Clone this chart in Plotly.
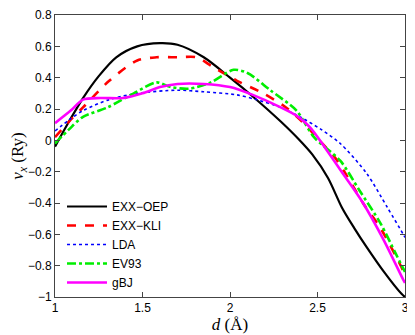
import plotly.graph_objects as go

# values (d in Angstrom, v_x in Ry)
d_oep = [1.0, 1.08, 1.16, 1.25, 1.35, 1.47, 1.60, 1.70, 1.85, 2.0, 2.13, 2.29, 2.39, 2.47, 2.56, 2.64, 2.71, 2.78, 2.88, 2.98, 3.0]
v_oep = [-0.04, 0.12, 0.27, 0.41, 0.53, 0.60, 0.62, 0.61, 0.53, 0.40, 0.28, 0.12, 0.01, -0.09, -0.24, -0.43, -0.56, -0.68, -0.84, -0.98, -1.0]

d_kli = [1.0, 1.08, 1.16, 1.31, 1.47, 1.58, 1.70, 1.81, 1.90, 2.04, 2.19, 2.32, 2.42, 2.51, 2.60, 2.67, 2.76, 2.86, 2.98, 3.0]
v_kli = [0.02, 0.12, 0.21, 0.38, 0.51, 0.53, 0.53, 0.53, 0.47, 0.38, 0.30, 0.21, 0.11, 0.0, -0.11, -0.23, -0.40, -0.56, -0.81, -0.86]

d_lda = [1.0, 1.08, 1.16, 1.31, 1.47, 1.70, 1.85, 2.04, 2.15, 2.29, 2.40, 2.52, 2.63, 2.78, 2.90, 2.99, 3.0]
v_lda = [0.06, 0.13, 0.19, 0.26, 0.30, 0.32, 0.31, 0.29, 0.26, 0.21, 0.15, 0.07, -0.02, -0.21, -0.43, -0.60, -0.62]

d_ev93 = [1.0, 1.08, 1.16, 1.30, 1.45, 1.58, 1.66, 1.77, 1.89, 2.02, 2.10, 2.23, 2.38, 2.48, 2.63, 2.74, 2.86, 2.95, 3.0]
v_ev93 = [-0.02, 0.07, 0.15, 0.21, 0.30, 0.37, 0.34, 0.33, 0.37, 0.45, 0.43, 0.32, 0.19, 0.02, -0.13, -0.32, -0.53, -0.73, -0.84]

d_gbj = [1.0, 1.09, 1.16, 1.26, 1.39, 1.50, 1.60, 1.70, 1.85, 2.0, 2.13, 2.29, 2.39, 2.46, 2.57, 2.65, 2.76, 2.88, 2.99, 3.0]
v_gbj = [0.11, 0.19, 0.26, 0.27, 0.27, 0.30, 0.34, 0.36, 0.36, 0.34, 0.29, 0.21, 0.15, 0.08, -0.09, -0.22, -0.40, -0.64, -0.89, -0.91]

x_ticks = [1, 1.5, 2, 2.5, 3]
x_labels = ["1", "1.5", "2", "2.5", "3"]
y_ticks = [-1, -0.8, -0.6, -0.4, -0.2, 0, 0.2, 0.4, 0.6, 0.8]
y_labels = ["\u22121", "\u22120.8", "\u22120.6", "\u22120.4", "\u22120.2", "0", "0.2", "0.4", "0.6", "0.8"]

series = [
    ("EXX\u2212OEP", d_oep, v_oep, "black", "solid", 2.2),
    ("EXX\u2212KLI", d_kli, v_kli, "red", "dash", 2.6),
    ("LDA", d_lda, v_lda, "blue", "dot", 1.6),
    ("EV93", d_ev93, v_ev93, "#00ee00", "dashdot", 2.6),
    ("gBJ", d_gbj, v_gbj, "magenta", "solid", 2.6),
]

fig = go.Figure()
for name, xs, ys, col, dash, w in series:
    fig.add_trace(go.Scatter(x=xs, y=ys, mode="lines", name=name,
                             line=dict(color=col, dash=dash, width=w, shape="spline", smoothing=0.8)))

axis_common = dict(showline=True, linecolor="#444", linewidth=1, mirror="ticks",
                   ticks="inside", ticklen=5, tickcolor="#444", showgrid=False,
                   zeroline=False, automargin=False,
                   tickfont=dict(family="Liberation Sans, Arial", size=12, color="black"))

# page body has an 8px margin, so the figure is a bit smaller than the window
fig.update_layout(
    width=407, height=327,
    margin=dict(l=47, r=10, t=7, b=38),
    plot_bgcolor="white", paper_bgcolor="white",
    xaxis=dict(range=[1, 3], tickvals=x_ticks, ticktext=x_labels,
               title=dict(text="<i>d</i> (\u00c5)", standoff=2,
                          font=dict(family="Liberation Serif, Times New Roman", size=17, color="black")),
               **axis_common),
    yaxis=dict(range=[-1, 0.8], tickvals=y_ticks, ticktext=y_labels,
               title=dict(text="<i>v<sub>x</sub></i> (Ry)", standoff=1,
                          font=dict(family="Liberation Serif, Times New Roman", size=17, color="black")),
               **axis_common),
    legend=dict(x=0.02, y=0.0, xanchor="left", yanchor="bottom", bgcolor="rgba(0,0,0,0)",
                font=dict(family="Liberation Sans, Arial", size=12, color="black"),
                itemwidth=40, tracegroupgap=0),
    showlegend=True,
)

fig.write_html("out.html")
